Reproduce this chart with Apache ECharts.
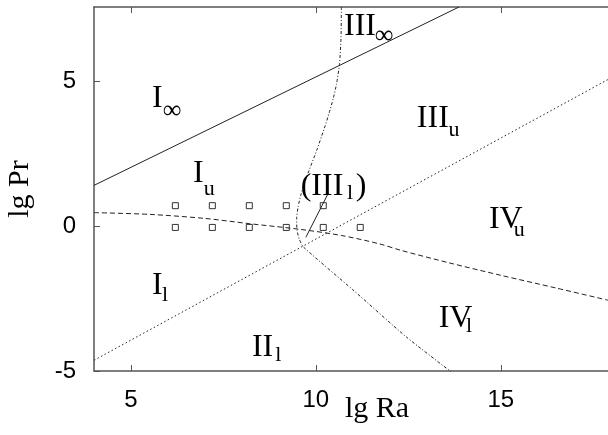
<!DOCTYPE html>
<html>
<head>
<meta charset="utf-8">
<script src="https://cdn.jsdelivr.net/npm/echarts@6/dist/echarts.min.js"></script>
<style>
  html, body { margin: 0; padding: 0; background: #fff; }
  #chart { width: 608px; height: 435px; }
</style>
</head>
<body>
<div id="chart"></div>
<script>
// Phase diagram of thermal convection regimes in the (lg Ra, lg Pr) plane.

// Axis ticks
const xTicks = [5, 10, 15];
const yTicks = [-5, 0, 5];

// Boundary between the infinite-Pr regimes and the upper regimes (solid straight line)
const boundaryInf = [[4, 1.40], [13.87, 7.55]];

// Boundary upper/lower (dotted straight line)
const boundaryUL = [[4, -4.63], [17.9, 5.05]];

// Dashed boundary curve
const boundaryDashed = [
  [4, 0.46], [5.5, 0.40], [7.0, 0.26], [8.2, 0.08], [9.6, -0.12],
  [10.7, -0.33], [11.7, -0.61], [12.3, -0.84], [13.6, -1.27],
  [15.0, -1.70], [16.5, -2.14], [17.9, -2.56]
];

// Dash-dot boundary curve (regimes I/II vs. III/IV)
const boundaryDashDot = [
  [10.69, 7.55], [10.68, 6.5], [10.64, 5.6], [10.56, 4.9], [10.47, 4.4],
  [10.36, 3.9], [10.25, 3.45], [10.02, 2.6], [9.75, 1.69], [9.60, 1.1],
  [9.52, 0.66], [9.48, 0.25], [9.49, -0.15], [9.55, -0.45], [9.66, -0.72],
  [11.0, -2.2], [12.45, -3.83], [13.66, -5.03]
];

// Pointer from the (III_l) label into its small region
const pointer = [[10.32, 1.09], [9.73, -0.39]];

// Simulation points: lg Ra and lg Pr
const pointsUpperRa = [6.2, 7.2, 8.2, 9.2, 10.2];
const pointsUpperPr = 0.7;
const pointsLowerRa = [6.2, 7.2, 8.2, 9.2, 10.2, 11.2];
const pointsLowerPr = -0.05;

// Regime labels: main text, subscript, anchor of main text, anchor of subscript
const regionMain = ['I', 'I', 'III', 'III', '(III', 'IV', 'IV', 'II', 'I'];
const regionSub  = ['\u221E', 'u', '\u221E', 'u', 'l', 'u', 'l', 'l', 'l'];
const regionMainAt = [
  [5.57, 4.40], [6.68, 1.82], [10.76, 6.87], [12.73, 3.70], [9.59, 1.37],
  [14.68, 0.21], [13.32, -3.21], [8.27, -4.20], [5.57, -2.04]
];
const regionSubAt = [
  [5.86, 3.95], [6.97, 1.26], [11.59, 6.56], [13.59, 3.29], [10.84, 1.14],
  [15.35, -0.16], [14.06, -3.45], [8.90, -4.46], [5.84, -2.39]
];
const closingParenAt = [11.08, 1.37];

const chart = echarts.init(document.getElementById('chart'), null, { renderer: 'canvas' });

const axisColor = '#555';
const lineColor = '#222';
const serif = '"Liberation Serif", "Times New Roman", serif';
const sans = '"Liberation Sans", Arial, sans-serif';

function textPoint(pos, text, size) {
  return {
    value: pos,
    label: {
      show: true,
      formatter: text,
      position: [0, 0],
      align: 'left',
      verticalAlign: 'middle',
      fontFamily: serif,
      fontSize: size,
      color: '#000',
      opacity: 1
    }
  };
}

const labelData = [];
regionMain.forEach((t, i) => {
  labelData.push(textPoint(regionMainAt[i], t, 32));
  labelData.push(textPoint(regionSubAt[i], regionSub[i], regionSub[i] === '\u221E' ? 26 : 22));
});
labelData.push(textPoint(closingParenAt, ')', 32));

function lineSeries(data, type, smooth) {
  return {
    type: 'line',
    data: data,
    symbol: 'none',
    smooth: smooth || false,
    clip: true,
    silent: true,
    lineStyle: { color: lineColor, width: 1, type: type }
  };
}

const option = {
  animation: false,
  backgroundColor: '#fff',
  grid: { left: 94, right: 0, top: 7, bottom: 64 },
  xAxis: [
    {
      type: 'value', min: 4, max: 17.9, position: 'bottom',
      axisLine: { show: true, onZero: false, lineStyle: { color: axisColor, width: 1.5 } },
      axisTick: { show: true, inside: true, length: 6, customValues: xTicks, lineStyle: { color: axisColor, width: 1 } },
      axisLabel: { customValues: xTicks, fontFamily: sans, fontSize: 24, color: '#000', margin: 17 },
      splitLine: { show: false }
    },
    {
      type: 'value', min: 4, max: 17.9, position: 'top',
      axisLine: { show: true, onZero: false, lineStyle: { color: axisColor, width: 1.5 } },
      axisTick: { show: true, inside: true, length: 6, customValues: xTicks, lineStyle: { color: axisColor, width: 1 } },
      axisLabel: { show: false },
      splitLine: { show: false }
    }
  ],
  yAxis: [
    {
      type: 'value', min: -5, max: 7.55, position: 'left',
      axisLine: { show: true, onZero: false, lineStyle: { color: axisColor, width: 1.5 } },
      axisTick: { show: true, inside: true, length: 6, customValues: yTicks, lineStyle: { color: axisColor, width: 1 } },
      axisLabel: { customValues: yTicks, fontFamily: sans, fontSize: 24, color: '#000', margin: 18 },
      splitLine: { show: false }
    }
  ],
  series: [
    lineSeries(boundaryInf, 'solid'),
    lineSeries(boundaryUL, [1.5, 2.5]),
    lineSeries(boundaryDashed, [5, 3], 0.3),
    lineSeries(boundaryDashDot, [3, 2, 1, 2], 0.2),
    lineSeries(pointer, 'solid'),
    {
      type: 'scatter',
      silent: true,
      symbol: 'rect',
      symbolSize: 6,
      itemStyle: { color: '#fff', borderColor: '#333', borderWidth: 1, opacity: 1 },
      data: pointsUpperRa.map(r => [r, pointsUpperPr]).concat(pointsLowerRa.map(r => [r, pointsLowerPr]))
    },
    {
      type: 'scatter',
      silent: true,
      symbolSize: 0,
      itemStyle: { color: 'transparent', opacity: 1 },
      z: 5,
      data: labelData
    }
  ],
  graphic: [
    {
      type: 'text',
      left: 345, top: 394,
      style: { text: 'lg Ra', font: '30px ' + serif, fill: '#000' }
    },
    {
      type: 'text',
      x: 20, y: 189,
      rotation: Math.PI / 2,
      style: { text: 'lg Pr', font: '30px ' + serif, fill: '#000', align: 'center', verticalAlign: 'middle' }
    }
  ]
};

chart.setOption(option);
</script>
</body>
</html>
